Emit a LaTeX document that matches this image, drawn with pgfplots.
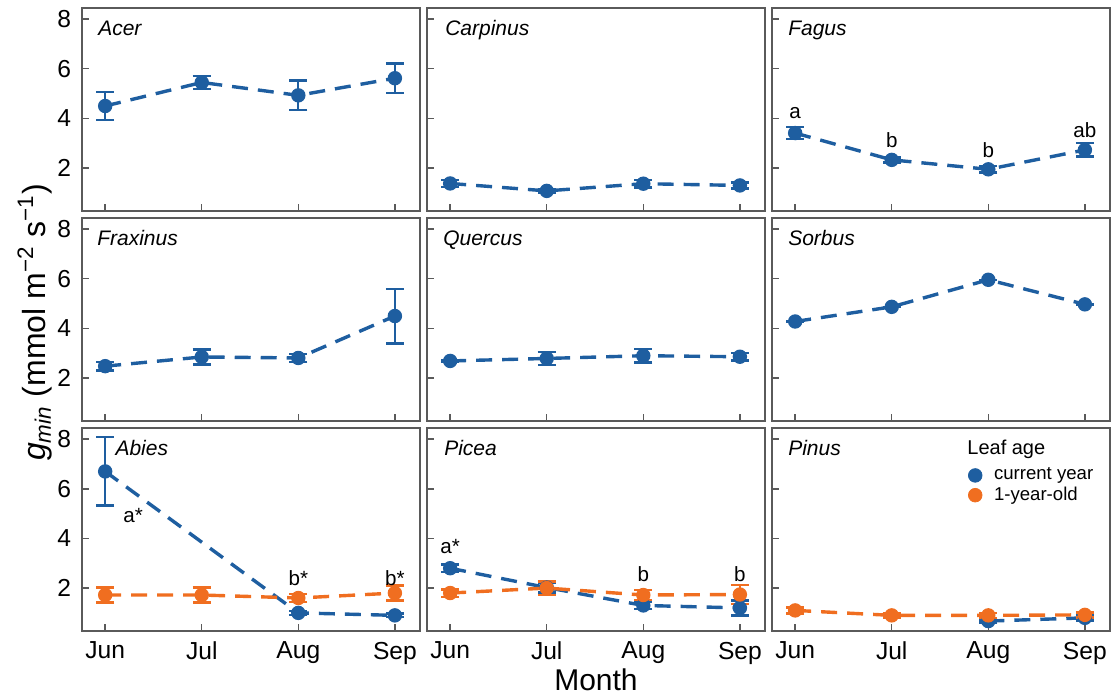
\documentclass[border=0pt]{standalone}
\usepackage{fontspec}
\setmainfont{Liberation Sans}
\usepackage{pgfplots}
\pgfplotsset{compat=1.18}
\usepgfplotslibrary{groupplots}

\definecolor{cblue}{RGB}{30,94,160}
\definecolor{corange}{RGB}{240,110,32}
\definecolor{framegray}{RGB}{90,90,90}

\pgfplotsset{
  series/.style={
    color=#1, line width=1.7pt, dash pattern=on 8pt off 5pt,
    mark=*, mark size=3.3pt, mark options={solid, line width=0.6pt},
    error bars/y dir=both, error bars/y explicit,
    error bars/error bar style={solid, line width=1.1pt},
    error bars/error mark options={solid, line width=1.2pt, mark size=4.5pt, rotate=90}
  },
  cur/.style={series=cblue},
  old/.style={series=corange},
}
\tikzset{
  genus/.style={anchor=north west, inner sep=0pt, font=\itshape\fontsize{10.5}{12}\selectfont},
  sig/.style={inner sep=0pt, font=\fontsize{10.3}{12}\selectfont},
}

\begin{document}
\begin{tikzpicture}
\begin{groupplot}[
  group style={group size=3 by 3, horizontal sep=3.5pt, vertical sep=3.5pt,
               xticklabels at=edge bottom, yticklabels at=edge left},
  scale only axis, width=169pt, height=101.5pt,
  xmin=-0.24, xmax=3.26, ymin=0.27, ymax=8.45,
  xtick={0,1,2,3}, xticklabels={Jun,Jul,Aug,Sep},
  ytick={2,4,6,8},
  tick align=inside, xtick pos=bottom, ytick pos=left,
  major tick length=3.5pt,
  axis line style={framegray, line width=0.7pt},
  tick style={framegray, line width=0.7pt},
  tick label style={font=\fontsize{12.3}{14}\selectfont},
  xticklabel style={yshift=-2pt},
  yticklabel style={xshift=-2pt},
  /pgf/number format/assume math mode=true,
]
% Acer
\nextgroupplot
\addplot[cur] coordinates {(0,4.50) +- (0,0.57) (1,5.45) +- (0,0.27) (2,4.93) +- (0,0.60) (3,5.62) +- (0,0.60)};
\node[genus] at (rel axis cs:0.047,0.94) {Acer};
% Carpinus
\nextgroupplot
\addplot[cur] coordinates {(0,1.38) +- (0,0.15) (1,1.08) +- (0,0.06) (2,1.37) +- (0,0.15) (3,1.30) +- (0,0.12)};
\node[genus] at (rel axis cs:0.053,0.94) {Carpinus};
% Fagus
\nextgroupplot
\addplot[cur] coordinates {(0,3.41) +- (0,0.25) (1,2.33) +- (0,0.10) (2,1.95) +- (0,0.13) (3,2.73) +- (0,0.27)};
\node[genus] at (rel axis cs:0.047,0.94) {Fagus};
\node[sig] at (axis cs:0,4.21) {a};
\node[sig] at (axis cs:1,3.13) {b};
\node[sig] at (axis cs:2,2.72) {b};
\node[sig] at (axis cs:3,3.53) {ab};
% Fraxinus
\nextgroupplot
\addplot[cur] coordinates {(0,2.48) +- (0,0.17) (1,2.85) +- (0,0.30) (2,2.81) +- (0,0.17) (3,4.50) +- (0,1.10)};
\node[genus] at (rel axis cs:0.044,0.94) {Fraxinus};
% Quercus
\nextgroupplot
\addplot[cur] coordinates {(0,2.69) +- (0,0.05) (1,2.79) +- (0,0.27) (2,2.90) +- (0,0.27) (3,2.86) +- (0,0.15)};
\node[genus] at (rel axis cs:0.047,0.94) {Quercus};
% Sorbus
\nextgroupplot
\addplot[cur] coordinates {(0,4.28) +- (0,0) (1,4.87) +- (0,0) (2,5.96) +- (0,0) (3,4.97) +- (0,0)};
\node[genus] at (rel axis cs:0.047,0.94) {Sorbus};
% Abies
\nextgroupplot
\addplot[cur] coordinates {(0,6.70) +- (0,1.38) (2,1.00) +- (0,0.08) (3,0.90) +- (0,0.07)};
\addplot[old] coordinates {(0,1.72) +- (0,0.30) (1,1.72) +- (0,0.30) (2,1.60) +- (0,0.15) (3,1.80) +- (0,0.30)};
\node[genus] at (rel axis cs:0.098,0.94) {Abies};
\node[sig] at (axis cs:0.29,4.94) {a*};
\node[sig] at (axis cs:2,2.40) {b*};
\node[sig] at (axis cs:3,2.40) {b*};
% Picea
\nextgroupplot
\addplot[cur] coordinates {(0,2.80) +- (0,0.15) (1,2.02) +- (0,0.20) (2,1.30) +- (0,0.15) (3,1.20) +- (0,0.30)};
\addplot[old] coordinates {(0,1.80) +- (0,0.15) (1,2.00) +- (0,0.27) (2,1.72) +- (0,0.20) (3,1.74) +- (0,0.38)};
\node[genus] at (rel axis cs:0.05,0.94) {Picea};
\node[sig] at (axis cs:0,3.69) {a*};
\node[sig] at (axis cs:2,2.56) {b};
\node[sig] at (axis cs:3,2.56) {b};
% Pinus
\nextgroupplot[
  legend style={draw=none, fill=none, at={(0.58,0.825)}, anchor=north west,
                font=\fontsize{9.3}{10}\selectfont, row sep=-2pt, column sep=4pt, inner sep=0pt},
  legend cell align=left,
]
\addplot[cur, forget plot] coordinates {(2,0.67) +- (0,0.05) (3,0.80) +- (0,0.10)};
\addplot[old, forget plot] coordinates {(0,1.10) +- (0,0.12) (1,0.90) +- (0,0.08) (2,0.90) +- (0,0.10) (3,0.92) +- (0,0.10)};
\node[genus] at (rel axis cs:0.047,0.94) {Pinus};
\node[anchor=north west, inner sep=0pt, font=\fontsize{10}{12}\selectfont] at (rel axis cs:0.577,0.941) {Leaf age};
\addlegendimage{only marks, mark=*, mark size=3.4pt, cblue}
\addlegendentry{current year}
\addlegendimage{only marks, mark=*, mark size=3.4pt, corange}
\addlegendentry{1-year-old}
\end{groupplot}
\node[rotate=90, font=\fontsize{16}{18}\selectfont] at ([xshift=-23.5pt,yshift=-1.5pt]group c1r2.west)
  {\textit{g}\textsubscript{\textit{min}} (mmol m\textsuperscript{−2} s\textsuperscript{−1})};
\node[font=\fontsize{15}{17}\selectfont] at ([yshift=-24.5pt]group c2r3.south) {Month};
\pgfresetboundingbox
\path ([shift={(-41pt,4pt)}]group c1r1.north west) rectangle ([shift={(516.5pt,-343.5pt)}]group c1r1.north west);
\end{tikzpicture}
\end{document}
